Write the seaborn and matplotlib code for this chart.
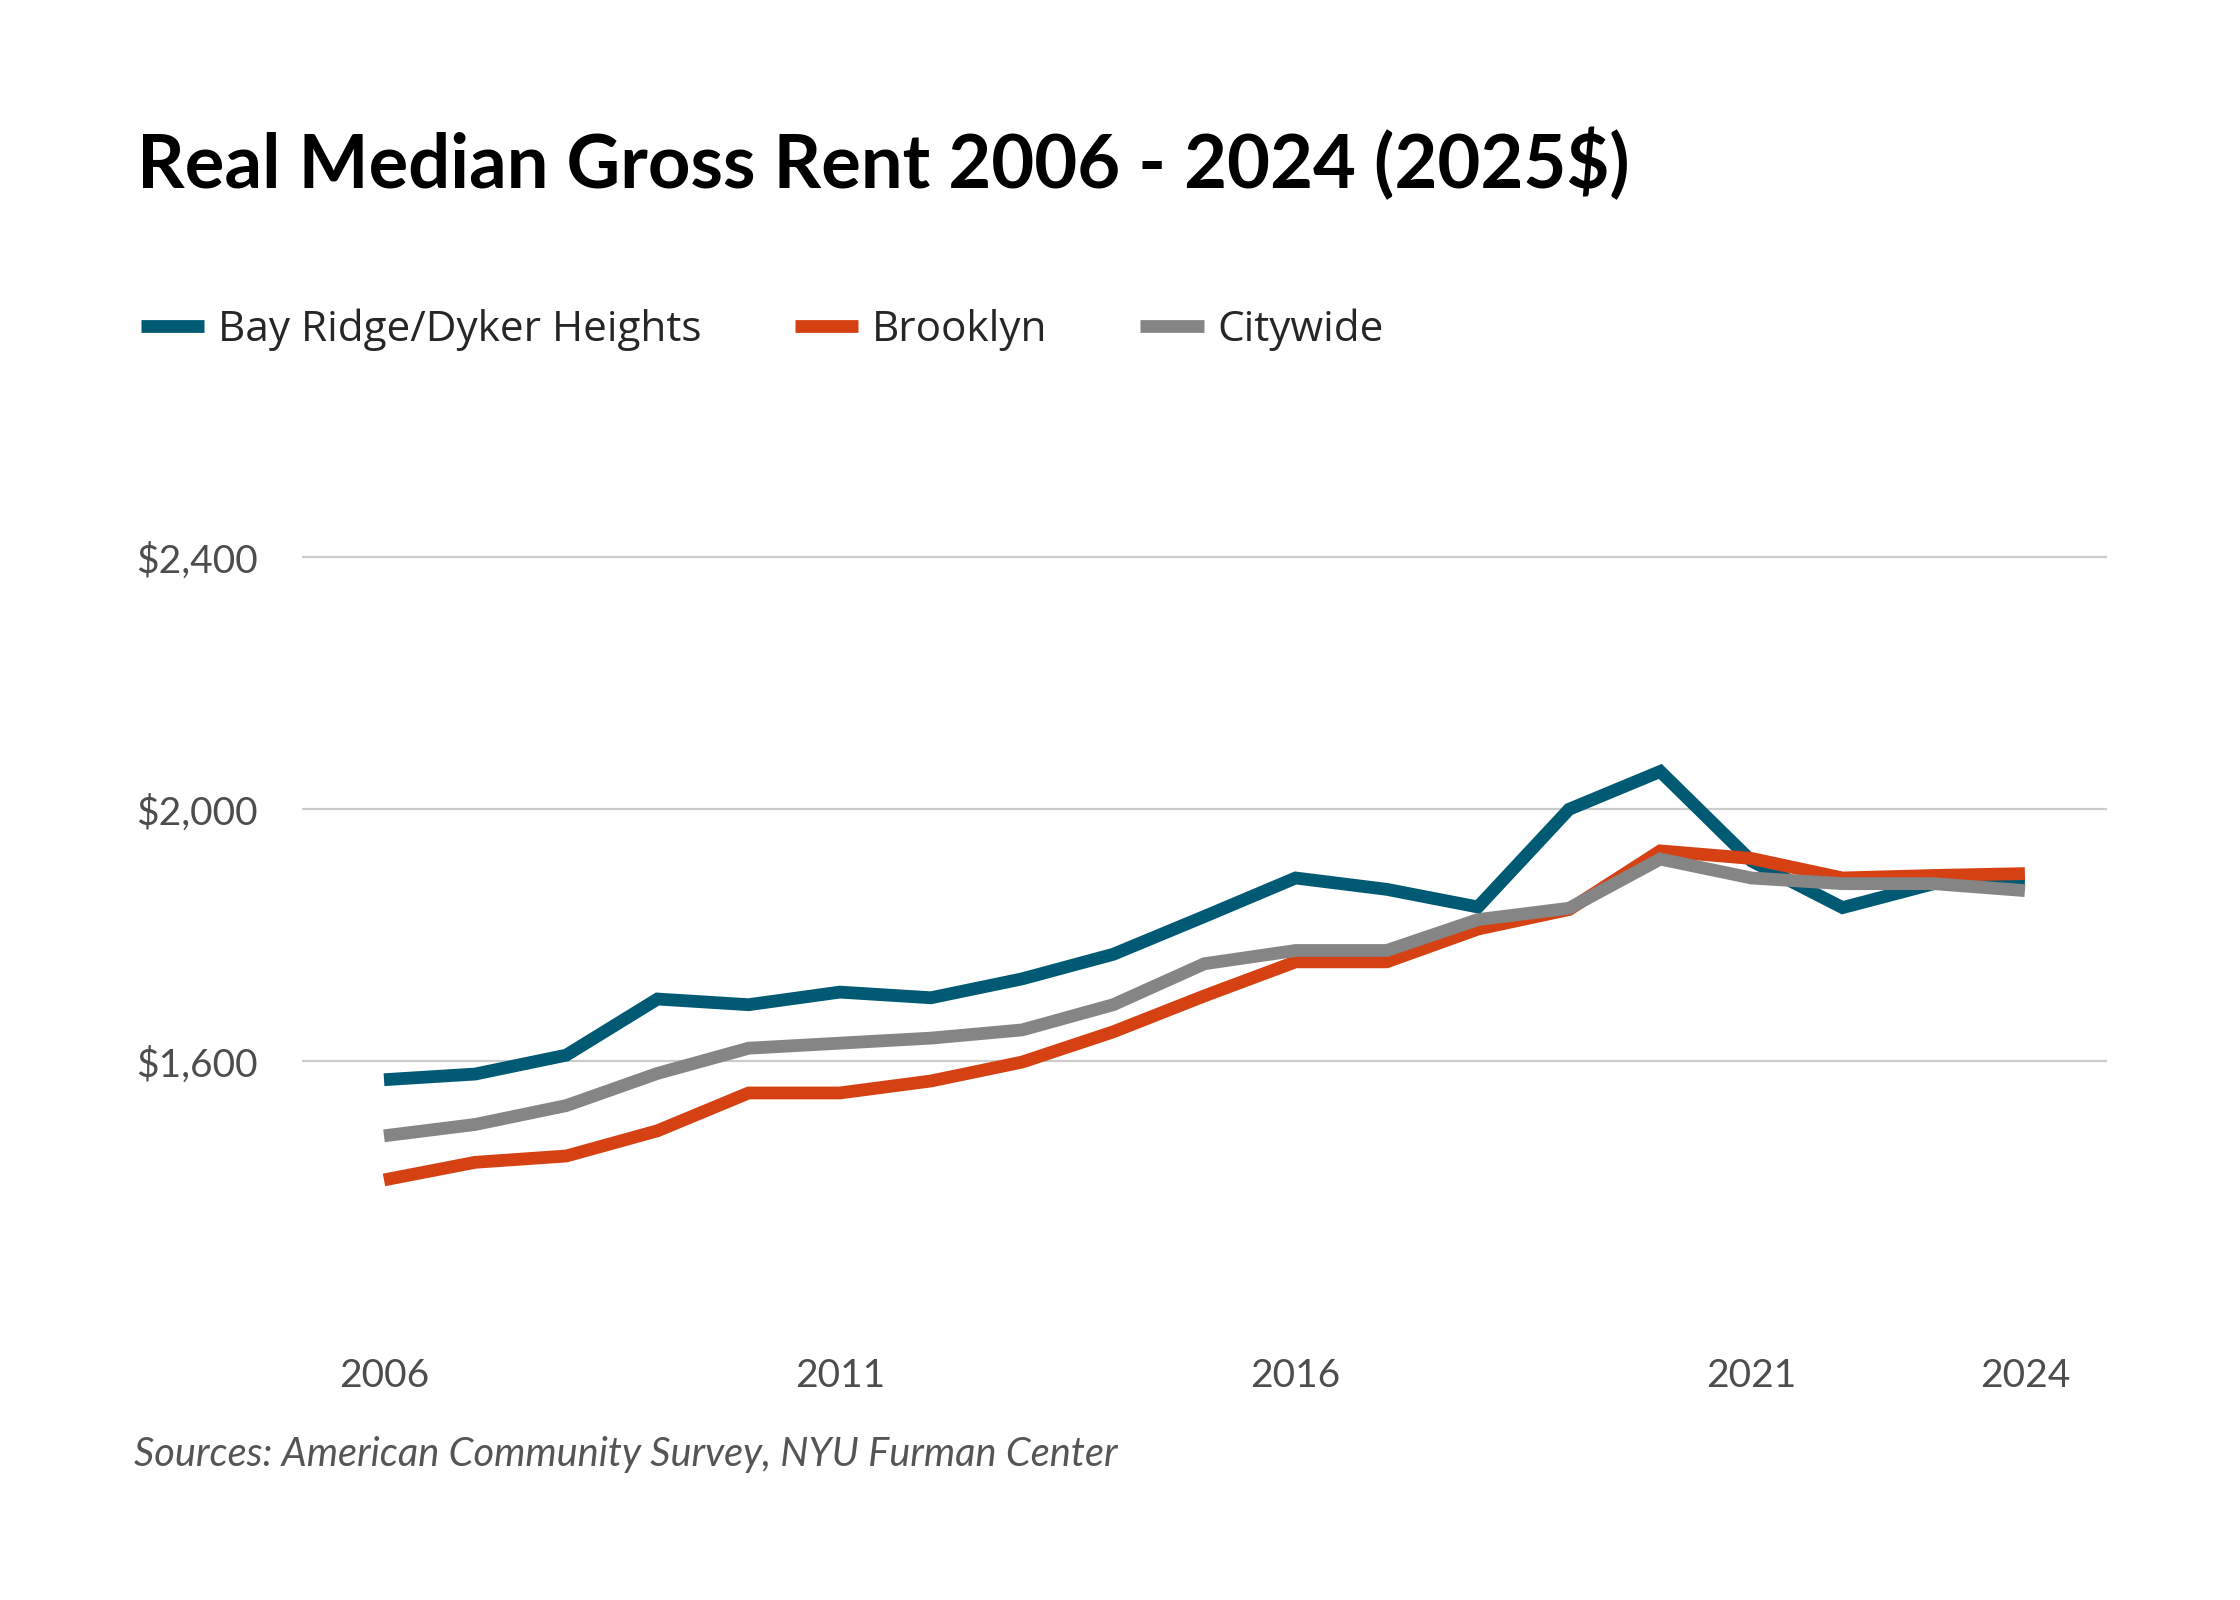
import matplotlib
matplotlib.use("Agg")
import matplotlib.pyplot as plt
import matplotlib.ticker as mtick
import pandas as pd
import seaborn as sns

years = list(range(2006, 2025))
bay_ridge = [1571, 1580, 1610, 1699, 1690, 1710, 1701, 1731, 1770, 1830,
             1891, 1873, 1845, 2000, 2060, 1918, 1844, 1882, 1884]
brooklyn = [1412, 1440, 1450, 1490, 1550, 1550, 1569, 1599, 1647, 1704,
            1758, 1758, 1810, 1841, 1934, 1922, 1891, 1895, 1898]
citywide = [1482, 1500, 1530, 1581, 1621, 1629, 1637, 1650, 1690, 1755,
            1776, 1776, 1825, 1843, 1921, 1891, 1882, 1882, 1871]
series_names = ["Bay Ridge/Dyker Heights", "Brooklyn", "Citywide"]
colors = ["#005a74", "#d64113", "#858585"]
x_ticks = [2006, 2011, 2016, 2021, 2024]
y_ticks = [1600, 2000, 2400]

df = pd.DataFrame({
    "year": years * 3,
    "rent": bay_ridge + brooklyn + citywide,
    "area": [n for n in series_names for _ in years],
})

sns.set_style("white")
plt.rcParams["font.family"] = ["Lato", "DejaVu Sans"]

fig = plt.figure(figsize=(11.2, 8), dpi=200)
ax = fig.add_axes([0.1348, 0.179, 0.8058, 0.5516])

sns.lineplot(data=df, x="year", y="rent", hue="area", palette=colors,
             hue_order=series_names, linewidth=4.6, ax=ax, legend=False,
             solid_joinstyle="miter", solid_capstyle="butt")

ax.set_xlim(2005.10, 2024.90)
ax.set_ylim(1200, 2600)
ax.set_xticks(x_ticks)
ax.set_yticks(y_ticks)
ax.yaxis.set_major_formatter(mtick.FuncFormatter(lambda v, _: f"${v:,.0f}"))
ax.grid(axis="y", color="#cccccc", linewidth=0.8)
ax.grid(axis="x", visible=False)
for s in ax.spines.values():
    s.set_visible(False)
ax.tick_params(axis="both", length=0, labelsize=14, labelcolor="#4d4d4d")
ax.tick_params(axis="x", pad=16)
ax.tick_params(axis="y", pad=16)
ax.set_xlabel("")
ax.set_ylabel("")

fig.text(0.061, 0.897, "Real Median Gross Rent 2006 - 2024 (2025$)",
         fontsize=26.7, fontweight="bold", color="black", va="center", ha="left")

handles = [plt.Line2D([], [], color=c, linewidth=4.6, solid_capstyle="butt") for c in colors]
fig.legend(handles, series_names, loc="center left", bbox_to_anchor=(0.046, 0.794),
           ncol=3, frameon=False, handlelength=1.5, handletextpad=0.33,
           columnspacing=2.2, prop={"family": ["Open Sans", "DejaVu Sans"], "size": 15.2})

fig.text(0.06, 0.091, "Sources: American Community Survey, NYU Furman Center",
         fontsize=14.3, style="italic", color="#555555", va="center", ha="left")

fig.savefig("out.png", dpi=200, facecolor="white")
